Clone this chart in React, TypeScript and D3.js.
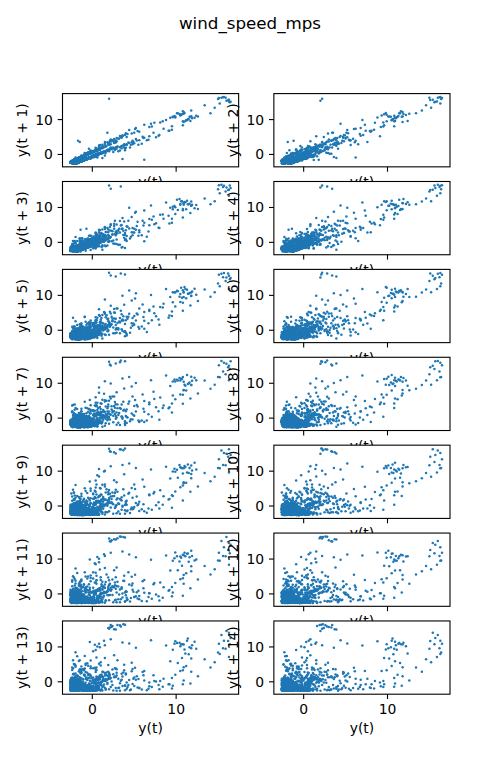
import { useMemo } from 'react'
import { extent, scaleLinear } from 'd3'

// Lag plots of wind speed: y(t) against y(t + k) for k = 1..14, 7 rows x 2 columns.
// The series is kept as a run of weather spells, joined in order below.

const calmA = [
  -1.8, -2.3, -1.9, -2.5, -2.2, -1.6, -2.0, -2.4, -2.1, -1.5, -1.1, -1.7, -1.3, -0.6, -1.0, -0.4, -0.9, -1.4, -0.8, -1.2,
  -1.9, -1.5, -2.2, -2.6, -2.3, -2.0, -2.5, -2.1, -1.7, -2.3, -1.8, -1.2, -1.6, -0.9, -0.3, -0.8, 0.2, -0.4, 0.4, -0.1,
  -0.7, -1.3, -0.9, -1.6, -2.1, -1.7, -2.4, -2.0, -2.5, -2.2, -1.8, -2.4, -2.6, -2.1, -1.5, -1.9, -1.2, -1.8, -2.2, -1.6,
  -1.0, -1.5, -0.7, -0.2, -0.8, 0.3, -0.3, 0.8, 0.1, -0.5, -1.1, -0.6, -1.4, -1.9, -1.3, -2.0, -2.4, -1.9, -2.3, -2.6,
  -2.2, -2.5, -2.0, -1.6, -2.1, -1.4, -1.9, -1.2, -0.6, -1.1, -0.5, 0.1, -0.4, 0.6, 1.1, 0.4, -0.2, 0.3, -0.6, -1.2,
  -0.7, -1.5, -2.0, -1.6, -2.3, -1.9, -2.5, -2.2, -2.6, -2.3, -1.8, -2.2, -1.5, -1.9, -1.3, -0.8, -1.4, -1.9, -2.4, -2.0,
  -2.5, -2.1, -1.7, -2.2, -1.6, -1.0, -1.5, -0.9, -0.3, -0.9, -1.5, -1.1, -1.8, -2.3, -1.9, -2.4, -2.0, -1.4, -1.8, -2.3,
  -2.6, -2.2, -2.5, -2.1, -1.6, -2.0, -1.3, -0.7, -1.2, -0.4, 0.2, -0.3, 0.5, 0.0, -0.6, -0.1, -0.8, -1.3, -0.9, -1.6,
  -2.1, -1.7, -2.3, -2.0, -2.5, -2.2, -1.9, -2.4, -2.0, -1.5, -2.0, -1.6, -1.1, -1.7, -2.2, -1.8, -2.4, -2.1, -2.6, -2.3,
  -1.9, -1.4, -1.8, -1.1, -0.5, -1.0, -0.2, 0.4, -0.1, 0.7, 0.2, -0.4, -1.0, -0.6, -1.3, -1.8, -1.4, -2.0, -2.4, -2.1,
]

const gustA = [
  -1.3, -0.5, 0.4, -0.2, 1.1, 2.0, 0.9, 2.7, 1.8, 3.5, 2.4, 4.1, 5.0, 3.2, 4.6, 2.8, 3.9, 1.6, 2.5, 0.7, 1.5, -0.3, 0.6,
  -0.9, -0.2, -1.2,
]

const calmB = [
  -1.7, -2.2, -1.8, -2.4, -2.0, -2.5, -2.2, -1.7, -2.1, -1.4, -1.9, -1.3, -0.8, -1.3, -0.6, -1.1, -1.6, -1.2, -1.9, -2.3,
  -2.0, -2.6, -2.2, -1.8, -2.3, -1.9, -1.4, -2.0, -1.5, -0.9, -0.3, -0.9, 0.1, -0.5, 0.6, 0.2, -0.4, -1.0, -0.5, -1.2,
  -1.7, -1.3, -2.0, -2.5, -2.1, -2.4, -2.0, -1.6, -2.2, -1.8, -2.4, -2.1, -1.5, -1.0, -1.6, -0.9, -1.4, -2.0, -1.6, -2.3,
  -2.6, -2.3, -1.9, -2.4, -2.0, -1.5, -1.9, -1.2, -0.6, -1.2, -0.7, 0.0, 0.5, -0.1, 0.9, 0.3, 1.2, 0.6, -0.2, -0.8,
  -0.3, -1.0, -1.6, -1.1, -1.8, -2.2, -1.8, -2.4, -2.1, -2.5, -2.2, -1.8, -2.3, -1.7, -1.2, -1.7, -1.0, -1.5, -2.1, -1.7,
  -2.2, -1.9, -2.5, -2.2, -1.6, -2.0, -1.5, -0.9, -1.4, -0.8, -0.2, -0.7, 0.3, -0.2, -0.8, -1.4, -1.0, -1.7, -2.1, -1.8,
  -2.4, -2.0, -2.5, -2.3, -1.9, -2.3, -1.8, -1.3, -1.9, -1.4, -0.9, -1.5, -2.0, -1.6, -2.2, -2.6, -2.2, -1.8, -2.3, -1.9,
  -1.4, -0.8, -1.3, -0.6, 0.0, -0.5, 0.4, 0.0, -0.6, -1.1, -0.7, -1.4, -1.9, -1.5, -2.1, -1.7, -2.3, -2.0, -1.5, -0.8,
]

const stormRise = [-0.2, 0.5, 0.1, 0.9, 0.3, -0.3, 0.6, 1.4, 0.8, 2.2, 1.5, 3.6, 5.2, 4.4, 7.0, 8.8, 9.9]

const stormPlateau = [
  10.6, 11.4, 10.1, 11.8, 10.9, 12.2, 10.5, 11.3, 9.8, 11.0, 11.9, 10.4, 11.6, 10.8, 12.4, 11.1, 9.6, 10.7, 11.5, 10.2,
  11.8, 10.9, 9.3, 10.5, 11.2, 9.9, 10.8, 9.5,
]

const stormFall = [8.1, 9.2, 6.8, 7.9, 5.4, 6.7, 4.2, 5.9, 3.1, 4.5, 2.0, 3.3, 1.1, 0.2]

const calmC = [
  -0.7, -1.3, -0.9, -1.6, -2.0, -1.5, -2.2, -1.8, -2.4, -2.1, -2.6, -2.2, -1.9, -2.4, -2.0, -1.5, -2.1, -1.6, -1.0, -1.5,
  -0.8, -1.3, -1.9, -1.4, -2.0, -2.4, -2.0, -2.5, -2.2, -1.7, -2.3, -1.8, -1.2, -1.7, -1.1, -0.5, -1.0, -0.4, 0.2, -0.3,
  -0.9, -0.5, -1.2, -1.7, -1.3, -2.0, -2.4, -2.1, -2.6, -2.3, -1.9, -2.4, -2.0, -1.6, -2.1, -1.5, -1.0, -1.6, -1.1, -1.8,
  -2.2, -1.8, -2.5, -2.1, -1.6, -2.2, -1.7, -2.3, -1.9, -1.3, -0.7, -1.2, -0.5, 0.1, -0.4, 0.5, 0.0, -0.7, -1.2, -0.8,
  -1.5, -2.0, -1.6, -2.2, -1.8, -2.5, -2.1, -2.4, -2.0, -1.5, -1.9, -1.3, -1.8, -2.3, -1.9, -2.5, -2.2, -1.7, -2.2, -1.6,
  -1.1, -1.6, -0.9, -0.3, -0.8, 0.2, -0.2, 0.7, 0.2, -0.4, 0.1, -0.6, -1.2, -0.7, -1.4, -1.9, -1.5, -2.1, -1.7, -2.4,
  -2.0, -2.6, -2.3, -1.9, -2.4, -1.8, -1.3, -1.8, -1.2, -1.7, -2.2, -1.8, -2.3, -2.0, -1.5, -2.0, -1.4, -0.9, -1.5, -1.0,
  -1.6, -2.1, -1.7, -2.3, -2.5, -2.1, -2.4, -2.0, -1.6, -2.2, -1.8, -1.3, -1.9, -1.4, -0.8, -1.3, -0.7, -0.1, -0.6, 0.0,
  0.6, 0.1, -0.5, -0.1, -0.8, -1.4, -0.9, -1.6, -2.1, -1.7, -2.3, -1.9, -2.5, -2.2, -2.6, -2.2, -1.8, -2.3, -1.9, -1.4,
  -1.9, -1.5, -1.0, -1.6, -1.2, -1.8, -2.3, -1.9, -2.4, -2.1, -1.5, -2.0, -1.5, -0.9, -1.5, -1.1, -1.7, -2.2, -1.8, -1.3,
]

const breezyA = [
  -0.3, 0.4, 1.1, 0.6, 1.5, 0.9, 2.0, 1.3, 0.7, 1.6, 2.3, 1.8, 1.0, 0.3, 0.9, 1.7, 1.2, 2.5, 1.9, 1.1,
  0.5, 1.3, 0.8, 0.1, 0.7, -0.2, 0.5, 1.2, 1.9, 1.4, 2.2, 2.9, 2.1, 1.5, 0.8, 1.4, 0.6, 1.0, 0.2, -0.4,
  0.3, 0.9, 0.4, 1.1, 1.8, 1.3, 0.6, 1.0, 0.2, 0.7, -0.1, 0.4, -0.5, 0.1, -0.8, -0.3, -1.0, -0.6, -1.3, -1.0,
]

const gustB = [
  -0.6, 0.3, -0.2, 1.0, 0.4, 1.9, 1.2, 2.8, 2.1, 3.7, 2.6, 4.4, 3.3, 5.3, 4.0, 6.1, 4.7, 3.5, 4.8, 2.9, 3.8, 2.0, 2.7,
  1.3, 0.5, -0.4,
]

const breezeBuild = [1.6, 2.4, 1.9, 3.0, 2.3, 3.7, 2.6, 3.3, 2.1, 3.9, 2.8, 3.4, 2.2, 2.0]

const galePeak = [16.0, 15.4, 16.3, 15.7, 16.5, 15.1, 16.2, 15.6, 16.4, 15.0, 15.9, 16.3, 15.2, 14.6]

const galeFall = [13.4, 14.1, 11.8, 12.6, 10.9, 11.7, 9.6, 10.8, 8.4, 9.5, 7.1, 8.0, 5.6, 6.5, 4.1, 2.9, 1.6, 0.4]

const calmD = [
  -0.5, -1.1, -0.7, -1.4, -1.9, -1.5, -2.1, -1.8, -2.4, -2.0, -2.6, -2.3, -2.0, -2.5, -2.1, -1.6, -2.2, -1.7, -1.1, -1.6,
  -1.0, -0.4, -0.9, -0.2, 0.4, -0.1, 0.8, 0.3, -0.3, -0.9, -0.4, -1.1, -1.6, -1.2, -1.9, -2.3, -1.9, -2.5, -2.2, -1.8,
  -2.3, -1.8, -1.3, -1.9, -1.4, -2.0, -2.4, -2.0, -2.6, -2.2, -1.7, -2.2, -1.6, -1.1, -1.7, -1.2, -0.6, -1.1, -1.7, -1.3,
  -2.0, -2.4, -2.1, -1.6, -2.1, -1.5, -1.9, -2.3, -1.9, -2.5, -2.2, -1.6, -2.0, -1.4, -0.8, -1.3, -0.6, 0.0, -0.5, 0.5,
  1.0, 0.4, -0.2, 0.2, -0.5, -1.1, -0.6, -1.3, -1.8, -1.4, -2.0, -2.4, -2.0, -2.5, -2.2, -1.9, -2.4, -2.0, -1.5, -2.0,
  -1.4, -0.9, -1.4, -0.8, -1.3, -1.9, -1.5, -2.1, -2.5, -2.1, -2.4, -1.9, -1.4, -1.9, -1.3, -0.7, -1.2, -0.5, 0.0, -0.6,
  -1.2, -0.8, -1.5, -2.0, -1.6, -2.2, -1.8, -2.4, -2.1, -2.6, -2.3, -1.9, -2.4, -1.8, -1.3, -1.8, -1.2, -1.7, -2.2, -1.8,
  -2.3, -1.9, -1.4, -1.9, -1.3, -0.8, -1.4, -0.9, -0.3, -0.8, -1.4, -1.0, -1.7, -2.1, -1.7, -2.3, -2.0, -2.5, -2.1, -1.6,
  -2.0, -1.5, -1.0, -1.5, -0.9, -0.4, 0.1, -0.4, 0.3, -0.2, -0.8, -1.3, -0.9, -1.5, -2.0, -1.6, -2.2, -1.8, -2.3, -2.0,
]

const gustD = [
  -0.9, 0.4, 1.5, 0.8, 2.6, 3.8, 2.9, 4.7, 6.0, 5.1, 7.3, 6.2, 8.5, 7.4, 9.1, 6.8, 5.2, 7.6, 4.9, 3.6, 5.5, 2.8, 4.0,
  1.9, 3.1, 0.9, 0.2, -0.7,
]

const breezyB = [
  -0.2, 0.6, 0.1, 0.9, 1.5, 0.8, 1.4, 2.1, 1.6, 0.9, 1.3, 0.5, 1.2, 1.8, 1.1, 0.4, 1.0, 0.3, -0.3, 0.4,
  0.9, 0.2, 0.7, 1.4, 0.8, 0.1, 0.6, -0.1, 0.5, -0.4, 0.2, -0.6, -0.1, -0.9, -0.5, -1.2, -0.8, -1.5, -1.1, -1.7,
]

const calmE = [
  -1.3, -1.8, -1.4, -2.0, -2.4, -2.1, -2.6, -2.2, -1.8, -2.3, -1.7, -1.2, -1.7, -1.1, -0.6, -1.2, -1.8, -1.4, -2.1, -2.5,
  -2.1, -2.4, -1.9, -2.3, -1.8, -1.4, -1.9, -1.5, 3.6, -1.3, -0.7, -1.3, -0.8, -0.2, 0.4, -0.2, 0.6, 0.1, -0.6, -1.0,
  -1.6, -1.2, -1.9, -2.3, -2.0, -2.5, -2.2, -1.7, -2.2, -1.6, -2.1, -2.5, -2.1, -1.6, -1.1, -1.6, -1.0, -1.5, -2.0, -1.7,
  -2.3, -1.9, -2.4, -2.6, -2.2, -1.7, -2.1, -1.5, -0.9, -1.4, -0.7, -1.2, -1.7, 3.9, 1.2, -1.0, -1.6, -2.1, -1.7, -2.4,
  -2.0, -2.5, -2.2, -1.8, -2.2, -1.6, -1.0, -1.5, -0.8, -0.2, -0.7, 0.3, -0.1, 0.8, 0.2, -0.4, 0.1, -0.6, -1.1, -1.7,
  -1.3, -2.0, -2.4, -1.9, -2.5, -2.1, -1.7, -2.2, -1.8, -1.3, -1.8, -1.1, -1.6, -2.1, -1.7, -2.3, -2.0, -2.6, -2.2, -1.9,
  -2.3, -1.8, -1.2, -1.8, -1.3, -0.7, -1.2, -0.5, 0.1, -0.4, -1.0, -0.6, -1.3, -1.8, -1.5, -2.1, -2.5, -2.2, -1.8, -2.3,
  -1.9, -1.4, -2.0, -1.6, -2.2, -2.5, -2.1, -2.4, -2.0, -1.5, -1.9, -1.4, -0.9, -1.4, -1.9, -1.6, -2.2, -2.0, -2.4, -2.1,
]

const gustC = [
  -1.5, -0.8, 0.1, 1.0, 0.5, 1.7, 2.4, 1.5, 3.0, 2.2, 4.3, 3.4, 5.0, 6.2, 4.8, 3.9, 5.6, 4.1, 2.7, 3.5, 1.8, 6.2, -1.5,
  -0.9, 0.3, 1.2, 0.4, -0.6, -1.1, -1.8,
]

const windSpeed = [
  ...calmA, ...gustA, ...calmB, ...stormRise, ...stormPlateau, ...stormFall, ...calmC, ...breezyA, ...gustB,
  ...breezeBuild, ...galePeak, ...galeFall, ...calmD, ...gustD, ...breezyB, ...calmE, ...gustC,
]

const lags = [1, 2, 3, 4, 5, 6, 7, 8, 9, 10, 11, 12, 13, 14]
const tickValues = [0, 10]

const W = 500
const H = 780
const FIG = { left: 62.5, right: 450, top: 93.6, bottom: 694.2 }
const N_COLS = 2
const N_ROWS = 7
const GAP = 0.2
const AX_W = (FIG.right - FIG.left) / (N_COLS + GAP * (N_COLS - 1))
const AX_H = (FIG.bottom - FIG.top) / (N_ROWS + GAP * (N_ROWS - 1))
const TICK = 4.86
const FONT = 'DejaVu Sans, sans-serif'
const DOT = '#1f77b4'

// matplotlib-style autoscale: data extent plus 5% each side
function padded(vals: number[]): [number, number] {
  const [lo, hi] = extent(vals) as [number, number]
  const m = (hi - lo) * 0.05
  return [lo - m, hi + m]
}

function LagPanel({ lag, index }: { lag: number; index: number }) {
  const row = Math.floor(index / N_COLS)
  const col = index % N_COLS
  const x0 = FIG.left + col * AX_W * (1 + GAP)
  const y0 = FIG.top + row * AX_H * (1 + GAP)
  const isBottom = row === N_ROWS - 1

  const pts = useMemo(
    () => windSpeed.slice(0, windSpeed.length - lag).map((v, i) => [v, windSpeed[i + lag]] as [number, number]),
    [lag],
  )
  const x = scaleLinear().domain(padded(pts.map((p) => p[0]))).range([0, AX_W])
  const y = scaleLinear().domain(padded(pts.map((p) => p[1]))).range([AX_H, 0])
  const clipId = `clip-lag-${lag}`

  return (
    <g transform={`translate(${x0}, ${y0})`}>
      <clipPath id={clipId}>
        <rect x={0} y={0} width={AX_W} height={AX_H} />
      </clipPath>
      <rect x={0} y={0} width={AX_W} height={AX_H} fill="#fff" />
      <g clipPath={`url(#${clipId})`}>
        {pts.map((p, i) => (
          <circle key={i} cx={x(p[0])} cy={y(p[1])} r={1.25} fill={DOT} />
        ))}
      </g>
      <rect x={0} y={0} width={AX_W} height={AX_H} fill="none" stroke="#000" strokeWidth={1.1} />
      {tickValues.map((t) => (
        <g key={`x${t}`} transform={`translate(${x(t)}, ${AX_H})`}>
          <line y2={TICK} stroke="#000" strokeWidth={1.1} />
          {isBottom && (
            <text y={20.3} textAnchor="middle" fontSize={13.9} fontFamily={FONT} fill="#000">
              {t}
            </text>
          )}
        </g>
      ))}
      {tickValues.map((t) => (
        <g key={`y${t}`} transform={`translate(0, ${y(t)})`}>
          <line x2={-TICK} stroke="#000" strokeWidth={1.1} />
          <text x={-9.7} dy="0.36em" textAnchor="end" fontSize={13.9} fontFamily={FONT} fill="#000">
            {t}
          </text>
        </g>
      ))}
      <text
        x={AX_W / 2}
        y={AX_H + (isBottom ? 39 : 20)}
        textAnchor="middle"
        fontSize={13.9}
        fontFamily={FONT}
        fill="#000"
      >
        y(t)
      </text>
      <text
        transform={`translate(-35.5, ${AX_H / 2}) rotate(-90)`}
        textAnchor="middle"
        fontSize={13.9}
        fontFamily={FONT}
        fill="#000"
      >
        {`y(t + ${lag})`}
      </text>
    </g>
  )
}

export default function App() {
  return (
    <svg
      width={W}
      height={H}
      viewBox={`0 0 ${W} ${H}`}
      style={{ position: 'absolute', left: 0, top: 0, background: '#fff' }}
    >
      <rect width={W} height={H} fill="#fff" />
      <text x={W / 2} y={29} textAnchor="middle" fontSize={16.7} fontFamily={FONT} fill="#000">
        wind_speed_mps
      </text>
      {/* drawn row by row so each panel's background hides the x label above it */}
      {lags.map((lag, i) => (
        <LagPanel key={lag} lag={lag} index={i} />
      ))}
    </svg>
  )
}
